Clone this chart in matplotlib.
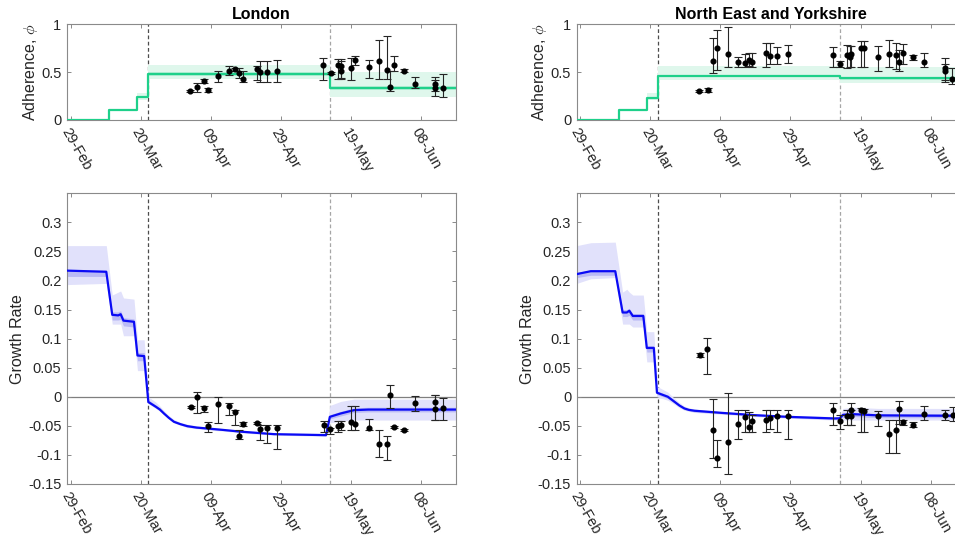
import matplotlib.pyplot as plt
import numpy as np

plt.rcParams['font.family'] = ['Liberation Sans', 'DejaVu Sans']
plt.rcParams['axes.unicode_minus'] = False
plt.rcParams['mathtext.fontset'] = 'cm'

# x in days since 29-Feb
tick_days = [0, 20, 40, 60, 80, 100]
tick_labels = ['29-Feb', '20-Mar', '09-Apr', '29-Apr', '19-May', '08-Jun']
lockdown_days = [22.2, 74.1]

# ---- London: adherence step model ----
lon_adh_days = [-1, 11.1, 19.0, 22.2, 74.1, 110]
lon_adh = [0, 0.1, 0.24, 0.48, 0.33]
lon_adh_lo = [0, 0.09, 0.21, 0.425, 0.245]
lon_adh_hi = [0, 0.11, 0.28, 0.57, 0.50]
lon_adh_dlo = [0, 0.095, 0.23, 0.46, 0.31]
lon_adh_dhi = [0, 0.105, 0.25, 0.505, 0.35]

# ---- London: adherence estimates ----
lon_pt_day = [34.1, 36.2, 38.1, 39.2, 42.2, 45.1, 47.0, 48.0, 49.1, 53.1, 54.1, 56.2, 59.0,
              72.1, 74.3, 76.2, 77.1, 77.2, 80.0, 81.1, 85.1, 88.1, 90.3, 91.2, 92.2, 95.2,
              98.2, 104.1, 104.1, 106.3]
lon_pt_adh = [0.302, 0.34, 0.406, 0.3125, 0.462, 0.51, 0.53, 0.49, 0.43, 0.53, 0.50, 0.50, 0.514,
              0.57, 0.49, 0.57, 0.56, 0.514, 0.54, 0.625, 0.55, 0.615, 0.52, 0.34, 0.57, 0.51,
              0.38, 0.38, 0.336, 0.336]
lon_pt_adh_lo = [0.295, 0.295, 0.382, 0.295, 0.40, 0.47, 0.51, 0.44, 0.40, 0.42, 0.40, 0.40, 0.396,
                 0.42, 0.48, 0.43, 0.44, 0.43, 0.42, 0.57, 0.44, 0.43, 0.43, 0.30, 0.51, 0.50,
                 0.33, 0.25, 0.30, 0.243]
lon_pt_adh_hi = [0.31, 0.382, 0.427, 0.33, 0.51, 0.56, 0.545, 0.54, 0.51, 0.566, 0.62, 0.62, 0.625,
                 0.65, 0.50, 0.64, 0.64, 0.62, 0.65, 0.67, 0.63, 0.84, 0.88, 0.51, 0.67, 0.53,
                 0.45, 0.45, 0.42, 0.476]

# ---- London: growth rate ----
lon_gr_day = [-1, 10.2, 11.9, 13.6, 14.3, 15.1, 18.1, 19.1, 21.0, 22.2, 24.3, 25.5, 26.7, 28.0,
              29.5, 31.3, 33.3, 36.0, 39.0, 43.5, 48.6, 58.1, 72.9, 74.0, 77.1, 80.9, 85, 110]
lon_gr = [0.217, 0.215, 0.141, 0.140, 0.142, 0.131, 0.129, 0.071, 0.070, -0.009, -0.017, -0.022,
          -0.029, -0.036, -0.043, -0.047, -0.0505, -0.053, -0.0545, -0.057, -0.060, -0.0643,
          -0.066, -0.0345, -0.0287, -0.023, -0.022, -0.022]
lon_gr_lo = [0.193, 0.195, 0.125, 0.125, 0.125, 0.105, 0.105, 0.045, 0.045, -0.012, -0.020, -0.025,
             -0.031, -0.038, -0.045, -0.049, -0.053, -0.055, -0.057, -0.059, -0.062, -0.066,
             -0.068, -0.045, -0.042, -0.040, -0.040, -0.040]
lon_gr_hi = [0.26, 0.26, 0.175, 0.18, 0.182, 0.17, 0.168, 0.098, 0.098, 0.0, -0.009, -0.016,
             -0.024, -0.032, -0.039, -0.044, -0.047, -0.050, -0.052, -0.055, -0.058, -0.062,
             -0.063, -0.015, -0.008, -0.004, -0.004, -0.004]
lon_gr_dlo = [0.207, 0.207, 0.132, 0.132, 0.133, 0.122, 0.120, 0.062, 0.062, -0.011, -0.019, -0.024,
              -0.030, -0.037, -0.044, -0.048, -0.052, -0.054, -0.056, -0.058, -0.061, -0.065,
              -0.067, -0.038, -0.033, -0.027, -0.026, -0.026]
lon_gr_dhi = [0.218, 0.218, 0.146, 0.146, 0.148, 0.136, 0.134, 0.076, 0.076, -0.005, -0.014, -0.019,
              -0.027, -0.034, -0.041, -0.045, -0.049, -0.051, -0.053, -0.056, -0.059, -0.063,
              -0.065, -0.031, -0.025, -0.019, -0.018, -0.018]

lon_pt_gr = [-0.0172, 0.0, -0.020, -0.0505, -0.0126, -0.016, -0.026, -0.0667, -0.046, -0.045, -0.0557,
             -0.054, -0.053, -0.049, -0.0557, -0.050, -0.049, -0.0435, -0.046, -0.053, -0.0805,
             -0.0805, 0.003, -0.052, -0.057, -0.0103, -0.0092, -0.021, -0.020]
lon_pt_gr_day = [34.3, 36.2, 38.1, 39.2, 42.2, 45.1, 47.0, 48.2, 49.1, 53.1, 54.1, 56.2, 59.0, 72.2,
                 74.1, 76.2, 77.1, 80.0, 81.1, 85.1, 88.1, 90.3, 91.2, 92.2, 95.2, 98.2, 104.1,
                 104.1, 106.3]
lon_pt_gr_lo = [-0.019, -0.0276, -0.026, -0.060, -0.045, -0.031, -0.049, -0.072, -0.050, -0.047,
                -0.075, -0.080, -0.089, -0.060, -0.064, -0.060, -0.058, -0.058, -0.058, -0.058,
                -0.104, -0.109, -0.020, -0.054, -0.059, -0.0236, -0.040, -0.040, -0.040]
lon_pt_gr_hi = [-0.0155, 0.0076, -0.0155, -0.043, 0.0, -0.0115, -0.022, -0.057, -0.043, -0.043,
                -0.049, -0.049, -0.049, -0.042, -0.053, -0.042, -0.041, -0.0155, -0.0155, -0.039,
                -0.058, -0.068, 0.021, -0.050, -0.055, 0.0016, 0.003, 0.003, -0.0025]

# ---- North East and Yorkshire: adherence step model ----
ney_adh_days = [-1, 11.0, 19.0, 22.1, 74.2, 110]
ney_adh = [0, 0.1, 0.232, 0.46, 0.435]
ney_adh_lo = [0, 0.09, 0.21, 0.42, 0.382]
ney_adh_hi = [0, 0.11, 0.28, 0.566, 0.555]
ney_adh_dlo = [0, 0.095, 0.22, 0.445, 0.42]
ney_adh_dhi = [0, 0.105, 0.245, 0.475, 0.45]

ney_pt_day = [34.0, 36.4, 38.0, 39.1, 42.1, 45.0, 47.1, 48.1, 49.1, 53.1, 54.1, 56.1, 59.3,
              72.2, 74.2, 76.2, 77.1, 77.2, 80.0, 81.0, 85.0, 88.0, 90.1, 91.1, 92.1, 95.1,
              98.1, 104.1, 104.1, 106.2]
ney_pt_adh = [0.302, 0.3125, 0.615, 0.757, 0.694, 0.61, 0.60, 0.63, 0.61, 0.70, 0.67, 0.67, 0.694,
              0.684, 0.583, 0.677, 0.66, 0.685, 0.747, 0.747, 0.66, 0.6875, 0.684, 0.61, 0.70, 0.66,
              0.61, 0.54, 0.51, 0.43]
ney_pt_adh_lo = [0.295, 0.295, 0.49, 0.52, 0.55, 0.55, 0.55, 0.56, 0.55, 0.55, 0.58, 0.58, 0.60,
                 0.55, 0.55, 0.545, 0.55, 0.55, 0.55, 0.55, 0.51, 0.55, 0.53, 0.51, 0.58, 0.63,
                 0.55, 0.40, 0.42, 0.38]
ney_pt_adh_hi = [0.31, 0.33, 0.86, 0.94, 0.97, 0.66, 0.69, 0.70, 0.70, 0.80, 0.80, 0.76, 0.78,
                 0.76, 0.62, 0.78, 0.77, 0.77, 0.82, 0.82, 0.77, 0.84, 0.80, 0.73, 0.79, 0.68,
                 0.70, 0.65, 0.58, 0.54]

# ---- North East and Yorkshire: growth rate ----
ney_gr_day = [-1, 3, 10.0, 12.1, 13.3, 14.0, 15.0, 18.0, 19.0, 21.0, 21.9, 25.0, 26.9, 28.3, 29.7,
              31.0, 32.6, 40.2, 49.7, 59.3, 72.6, 74.0, 75.0, 78.3, 85, 110]
ney_gr = [0.211, 0.216, 0.216, 0.145, 0.145, 0.148, 0.139, 0.139, 0.084, 0.084, 0.007, 0.0,
          -0.0086, -0.015, -0.020, -0.0225, -0.024, -0.0276, -0.0316, -0.0345, -0.0373, -0.037,
          -0.031, -0.030, -0.032, -0.0328]
ney_gr_lo = [0.195, 0.203, 0.205, 0.125, 0.125, 0.125, 0.12, 0.12, 0.06, 0.06, 0.0, -0.006,
             -0.013, -0.019, -0.023, -0.025, -0.027, -0.030, -0.034, -0.037, -0.040, -0.040,
             -0.040, -0.040, -0.040, -0.040]
ney_gr_hi = [0.26, 0.265, 0.266, 0.18, 0.185, 0.18, 0.175, 0.175, 0.112, 0.112, 0.018, 0.008,
             -0.003, -0.010, -0.016, -0.019, -0.021, -0.025, -0.029, -0.032, -0.034, -0.034,
             -0.020, -0.018, -0.020, -0.020]
ney_gr_dlo = [0.205, 0.209, 0.209, 0.138, 0.138, 0.140, 0.132, 0.132, 0.077, 0.077, 0.004, -0.003,
              -0.011, -0.017, -0.022, -0.024, -0.026, -0.029, -0.033, -0.036, -0.039, -0.039,
              -0.035, -0.034, -0.036, -0.036]
ney_gr_dhi = [0.214, 0.218, 0.218, 0.150, 0.150, 0.152, 0.143, 0.143, 0.088, 0.088, 0.010, 0.003,
              -0.006, -0.013, -0.018, -0.021, -0.022, -0.026, -0.030, -0.033, -0.036, -0.036,
              -0.028, -0.027, -0.029, -0.029]

ney_pt_gr_day = [34.2, 36.2, 38.0, 39.1, 42.1, 45.1, 47.1, 48.1, 49.1, 53.1, 54.1, 56.1, 59.3,
                 72.2, 74.2, 76.2, 77.2, 77.2, 80.0, 81.1, 85.0, 88.1, 90.2, 91.0, 92.1, 95.1,
                 98.0, 104.1, 106.3]
ney_pt_gr = [0.072, 0.0817, -0.0574, -0.105, -0.0776, -0.046, -0.0345, -0.0517, -0.042, -0.040,
             -0.037, -0.033, -0.033, -0.023, -0.042, -0.033, -0.022, -0.033, -0.022, -0.025,
             -0.033, -0.064, -0.0574, -0.021, -0.044, -0.048, -0.029, -0.032, -0.031]
ney_pt_gr_lo = [0.068, 0.040, -0.106, -0.12, -0.132, -0.073, -0.060, -0.060, -0.060, -0.060,
                -0.055, -0.060, -0.072, -0.049, -0.055, -0.049, -0.049, -0.049, -0.061, -0.061,
                -0.050, -0.097, -0.097, -0.046, -0.049, -0.052, -0.040, -0.040, -0.041]
ney_pt_gr_hi = [0.075, 0.1007, -0.0045, -0.075, 0.0058, -0.022, -0.022, -0.026, -0.031, -0.022,
                -0.022, -0.022, -0.023, -0.011, -0.031, -0.022, -0.0115, -0.022, -0.020, -0.021,
                -0.024, -0.040, -0.040, -0.0065, -0.040, -0.044, -0.0165, -0.022, -0.018]

GREEN = '#1ed08a'
BLUE = '#0a0af5'
FRAME = '#8a8a8a'


def style_axes(ax, yticks, ylabels):
    ax.set_xlim(-1, 110)
    ax.set_xticks(tick_days)
    ax.set_xticklabels(tick_labels, rotation=-60, ha='left', va='top', rotation_mode='anchor')
    ax.set_yticks(yticks)
    ax.set_yticklabels(ylabels)
    ax.tick_params(direction='in', length=3, width=0.7, color=FRAME, labelsize=10.5,
                   labelcolor='#262626', top=True, right=True, pad=4)
    for s in ax.spines.values():
        s.set_color(FRAME)
        s.set_linewidth(0.8)
    for d, c in zip(lockdown_days, ['#4d4d4d', '#a6a6a6']):
        ax.axvline(d, color=c, lw=0.9, dashes=(3, 2), zorder=1)


def adherence_panel(ax, days, lev, lo, hi, dlo, dhi, pd, pv, plo, phi, title):
    st = lambda a: list(a) + [a[-1]]
    ax.fill_between(days, st(lo), st(hi), step='post', color='#dff7ec', lw=0, zorder=2)
    ax.fill_between(days, st(dlo), st(dhi), step='post', color='#b8efd7', lw=0, zorder=2)
    ax.step(days, st(lev), where='post', color=GREEN, lw=1.6, zorder=3)
    pv = np.array(pv)
    ax.errorbar(pd, pv, yerr=[pv - np.array(plo), np.array(phi) - pv], fmt='o', ms=3.4,
                color='black', ecolor='#262626', elinewidth=0.8, capsize=3, capthick=0.8,
                zorder=4)
    ax.set_ylim(0, 1)
    style_axes(ax, [0, 0.5, 1], ['0', '0.5', '1'])
    ax.set_ylabel('Adherence, $\\phi$', fontsize=11.5, color='#262626', labelpad=1)
    ax.set_title(title, fontsize=11.5, fontweight='bold', pad=4)


def growth_panel(ax, days, g, lo, hi, dlo, dhi, pd, pv, plo, phi):
    ax.axhline(0, color='#7f7f7f', lw=0.9, zorder=1)
    ax.fill_between(days, lo, hi, color='#e1e1fb', lw=0, zorder=2)
    ax.fill_between(days, dlo, dhi, color='#babaf5', lw=0, zorder=2)
    ax.plot(days, g, color=BLUE, lw=1.6, zorder=3)
    pv = np.array(pv)
    ax.errorbar(pd, pv, yerr=[pv - np.array(plo), np.array(phi) - pv], fmt='o', ms=3.4,
                color='black', ecolor='#262626', elinewidth=0.8, capsize=3, capthick=0.8,
                zorder=4)
    ax.set_ylim(-0.15, 0.35)
    yt = [-0.15, -0.1, -0.05, 0, 0.05, 0.1, 0.15, 0.2, 0.25, 0.3]
    style_axes(ax, yt, ['-0.15', '-0.1', '-0.05', '0', '0.05', '0.1', '0.15', '0.2', '0.25', '0.3'])
    ax.set_ylabel('Growth Rate', fontsize=11.5, color='#262626', labelpad=2)


fig = plt.figure(figsize=(9.55, 5.38), dpi=100)
ax1 = fig.add_axes([0.0702, 0.7770, 0.4073, 0.1779])
ax2 = fig.add_axes([0.0702, 0.1004, 0.4073, 0.5403])
ax3 = fig.add_axes([0.6039, 0.7770, 0.4073, 0.1779])
ax4 = fig.add_axes([0.6039, 0.1004, 0.4073, 0.5403])

adherence_panel(ax1, lon_adh_days, lon_adh, lon_adh_lo, lon_adh_hi, lon_adh_dlo, lon_adh_dhi,
                lon_pt_day, lon_pt_adh, lon_pt_adh_lo, lon_pt_adh_hi, 'London')
growth_panel(ax2, lon_gr_day, lon_gr, lon_gr_lo, lon_gr_hi, lon_gr_dlo, lon_gr_dhi,
             lon_pt_gr_day, lon_pt_gr, lon_pt_gr_lo, lon_pt_gr_hi)
adherence_panel(ax3, ney_adh_days, ney_adh, ney_adh_lo, ney_adh_hi, ney_adh_dlo, ney_adh_dhi,
                ney_pt_day, ney_pt_adh, ney_pt_adh_lo, ney_pt_adh_hi, 'North East and Yorkshire')
growth_panel(ax4, ney_gr_day, ney_gr, ney_gr_lo, ney_gr_hi, ney_gr_dlo, ney_gr_dhi,
             ney_pt_gr_day, ney_pt_gr, ney_pt_gr_lo, ney_pt_gr_hi)

fig.savefig('out.png', dpi=100)
